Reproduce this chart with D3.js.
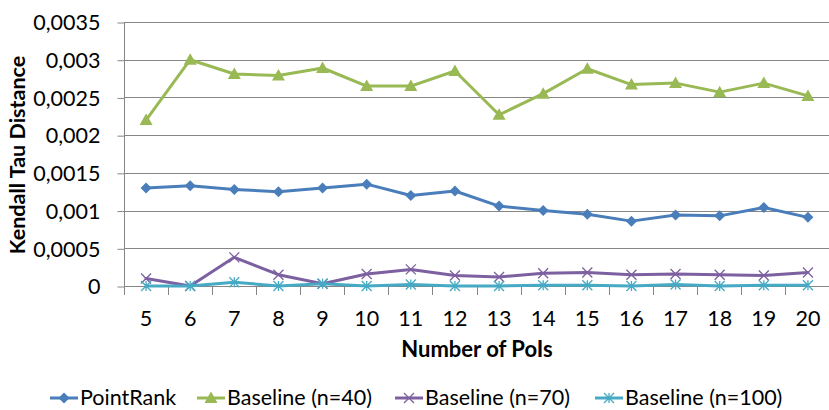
<!DOCTYPE html>
<html><head><meta charset="utf-8">
<script src="https://cdn.jsdelivr.net/npm/d3@7"></script>
<style>
html,body{margin:0;padding:0;background:#fff;}
svg{display:block;}
text{font-family:Lato,"Open Sans",sans-serif;fill:#000;}
</style></head>
<body>
<svg id="chart" width="829" height="410"></svg>
<script>
const categories = [5,6,7,8,9,10,11,12,13,14,15,16,17,18,19,20];
const pointRank   = [0.00130,0.00133,0.00128,0.00125,0.00130,0.00135,0.00120,0.00126,0.00106,0.00100,0.00095,0.00086,0.00094,0.00093,0.00104,0.00091];
const baseline40  = [0.00220,0.00300,0.00281,0.00279,0.00289,0.00265,0.00265,0.00285,0.00227,0.00255,0.00288,0.00267,0.00269,0.00257,0.00269,0.00252];
const baseline70  = [0.00010,0.00000,0.00038,0.00015,0.00003,0.00016,0.00022,0.00014,0.00012,0.00017,0.00018,0.00015,0.00016,0.00015,0.00014,0.00018];
const baseline100 = [0.00000,0.00000,0.00005,0.00000,0.00003,0.00000,0.00002,0.00000,0.00000,0.00001,0.00001,0.00000,0.00002,0.00000,0.00001,0.00001];
const yTicks = [0,0.0005,0.001,0.0015,0.002,0.0025,0.003,0.0035];
const seriesNames = ["PointRank","Baseline (n=40)","Baseline (n=70)","Baseline (n=100)"];
const xTitle = "Number of PoIs";
const yTitle = "Kendall Tau Distance";

const series = [
  {name:seriesNames[0], values:pointRank,   color:"#4a7ebb", marker:"diamond"},
  {name:seriesNames[1], values:baseline40,  color:"#98b954", marker:"triangle"},
  {name:seriesNames[2], values:baseline70,  color:"#7d60a0", marker:"x"},
  {name:seriesNames[3], values:baseline100, color:"#46aac5", marker:"star"}
];

const svg = d3.select("#chart");
const L = 124, R = 830, T = 22, B = 286;
const x = d3.scaleBand().domain(categories).range([L, R]).padding(0);
const y = d3.scaleLinear().domain([0, 0.0035]).range([B, T]);
const fmt = d => d === 0 ? "0" : String(+d.toFixed(4)).replace(".", ",");
const gridColor = "#868686";

// gridlines
svg.append("g").selectAll("line").data(yTicks.filter(d => d > 0)).join("line")
  .attr("x1", L).attr("x2", R).attr("y1", d => Math.round(y(d)) + 0.5).attr("y2", d => Math.round(y(d)) + 0.5)
  .attr("stroke", gridColor).attr("stroke-width", 1);

// y axis
const yAxis = svg.append("g").attr("transform", `translate(${L + 0.5},0)`)
  .call(d3.axisLeft(y).tickValues(yTicks).tickFormat(fmt).tickSize(7).tickPadding(17));
yAxis.selectAll("line").attr("stroke", gridColor).attr("transform", "translate(0,0.5)");
yAxis.select(".domain").attr("stroke", gridColor).attr("d", `M0,${T}V${B + 8}`);
yAxis.selectAll("text").attr("font-size", 21.5).attr("font-family", "Lato").attr("dy", "0.36em");

// x axis: labels from band scale, tick marks at band boundaries
const xAxis = svg.append("g").attr("transform", `translate(0,${B + 0.5})`)
  .call(d3.axisBottom(x).tickSize(0).tickPadding(0));
xAxis.select(".domain").attr("stroke", gridColor).attr("d", `M${L},0H${R}`);
xAxis.selectAll("text").attr("font-size", 21.5).attr("font-family", "Lato").attr("y", 39).attr("dy", 0);
xAxis.selectAll(".tick").append("line")
  .attr("x1", -x.bandwidth() / 2).attr("x2", -x.bandwidth() / 2).attr("y1", 0).attr("y2", 8)
  .attr("stroke", gridColor).attr("shape-rendering", "crispEdges");

// titles
svg.append("text").attr("x", 477).attr("y", 357).attr("text-anchor", "middle")
  .attr("font-weight", "bold").attr("font-size", 22).text(xTitle);
svg.append("text").attr("transform", `translate(25,${(T + B) / 2 + 1}) rotate(-90)`).attr("text-anchor", "middle")
  .attr("font-weight", "bold").attr("font-size", 21.5).text(yTitle);

function drawMarker(g, type, color, cx, cy) {
  if (type === "diamond") {
    g.append("path").attr("d", `M${cx},${cy-5.5}L${cx+5.5},${cy}L${cx},${cy+5.5}L${cx-5.5},${cy}Z`).attr("fill", color);
  } else if (type === "triangle") {
    g.append("path").attr("d", `M${cx},${cy-6.5}L${cx+6.5},${cy+5}L${cx-6.5},${cy+5}Z`).attr("fill", color);
  } else if (type === "x") {
    g.append("path").attr("d", `M${cx-5},${cy-5}L${cx+5},${cy+5}M${cx-5},${cy+5}L${cx+5},${cy-5}`)
      .attr("stroke", color).attr("stroke-width", 1.3).attr("fill", "none");
  } else {
    g.append("path").attr("d", `M${cx-5},${cy-5}L${cx+5},${cy+5}M${cx-5},${cy+5}L${cx+5},${cy-5}M${cx},${cy-5}V${cy+5}`)
      .attr("stroke", color).attr("stroke-width", 1.3).attr("fill", "none");
  }
}

const line = d3.line().x((d, i) => x(categories[i]) + x.bandwidth() / 2).y(d => y(d));
series.forEach(s => {
  const g = svg.append("g");
  g.append("path").attr("d", line(s.values)).attr("fill", "none").attr("stroke", s.color)
    .attr("stroke-width", 3).attr("stroke-linejoin", "round").attr("stroke-linecap", "round");
  s.values.forEach((v, i) => drawMarker(g, s.marker, s.color, x(categories[i]) + x.bandwidth() / 2, y(v)));
});

// legend
const legendX = [50, 197, 395, 595];
const legendY = 398;
series.forEach((s, i) => {
  const g = svg.append("g");
  const x0 = legendX[i];
  g.append("line").attr("x1", x0).attr("x2", x0 + 28).attr("y1", legendY).attr("y2", legendY)
    .attr("stroke", s.color).attr("stroke-width", 3);
  drawMarker(g, s.marker, s.color, x0 + 14, legendY);
  g.append("text").attr("x", x0 + 30).attr("y", 405).attr("font-size", 21.5).text(s.name);
});
</script>
</body></html>
